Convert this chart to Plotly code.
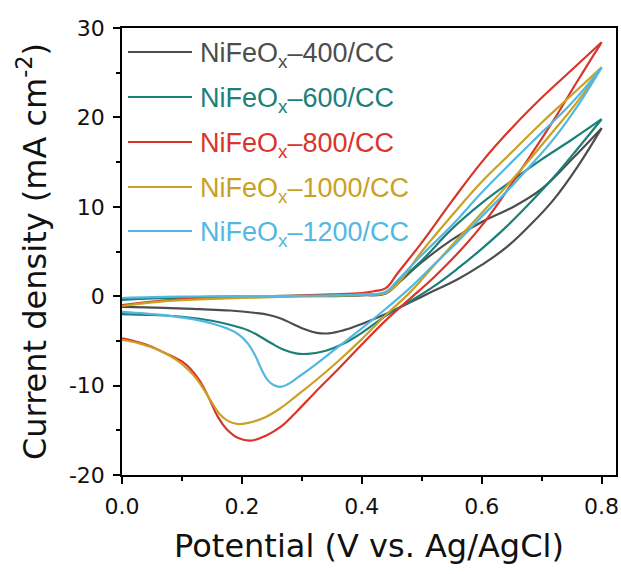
import plotly.graph_objects as go

# ---------------- data ----------------
labels = ["NiFeO<sub>x</sub>–400/CC", "NiFeO<sub>x</sub>–600/CC", "NiFeO<sub>x</sub>–800/CC",
          "NiFeO<sub>x</sub>–1000/CC", "NiFeO<sub>x</sub>–1200/CC"]
colors = ["#4d4d4d", "#1a8079", "#d9352b", "#c9a123", "#52b8e2"]

x_tickvals = [0.0, 0.2, 0.4, 0.6, 0.8]
x_ticklabels = ["0.0", "0.2", "0.4", "0.6", "0.8"]
x_minor = [0.1, 0.3, 0.5, 0.7]
y_tickvals = [-20, -10, 0, 10, 20, 30]
y_ticklabels = ["-20", "-10", "0", "10", "20", "30"]
y_minor = [-15, -5, 5, 15, 25]

# NiFeOx-400/CC  (anodic sweep 0 -> 0.8 V, then cathodic sweep 0.8 -> 0 V)
v400_fwd = [0, 0.05, 0.1, 0.2, 0.3, 0.4, 0.44, 0.46, 0.5, 0.55, 0.6, 0.65, 0.7, 0.75, 0.8]
j400_fwd = [-0.3, -0.2, -0.1, -0.05, 0.0, 0.1, 0.3, 1.4, 3.8, 6.3, 8.3, 9.9, 12.0, 15.3, 18.8]
v400_rev = [0.8, 0.76, 0.72, 0.68, 0.64, 0.6, 0.56, 0.52, 0.48, 0.44, 0.4, 0.37, 0.345,
            0.325, 0.305, 0.285, 0.265, 0.245, 0.22, 0.18, 0.13, 0.07, 0]
j400_rev = [18.8, 14.5, 10.8, 7.9, 5.4, 3.5, 1.9, 0.6, -0.7, -2.0, -3.1, -3.8, -4.15,
            -4.1, -3.7, -3.1, -2.5, -2.1, -1.85, -1.6, -1.45, -1.3, -1.2]

# NiFeOx-600/CC
v600_fwd = [0, 0.05, 0.1, 0.2, 0.3, 0.4, 0.44, 0.46, 0.5, 0.55, 0.6, 0.65, 0.7, 0.75, 0.8]
j600_fwd = [-0.4, -0.25, -0.15, -0.05, 0.05, 0.15, 0.4, 1.6, 4.0, 7.5, 10.4, 12.9, 15.3, 17.5, 19.8]
v600_rev = [0.8, 0.76, 0.72, 0.68, 0.64, 0.6, 0.56, 0.52, 0.48, 0.44, 0.4, 0.37, 0.34,
            0.31, 0.29, 0.27, 0.25, 0.23, 0.21, 0.18, 0.15, 0.1, 0.05, 0]
j600_rev = [19.8, 16.5, 13.3, 10.4, 7.7, 5.3, 3.1, 1.1, -0.6, -2.2, -4.1, -5.3, -6.1,
            -6.45, -6.4, -6.0, -5.3, -4.5, -3.8, -3.2, -2.75, -2.3, -2.1, -2.0]

# NiFeOx-800/CC
v800_fwd = [0, 0.05, 0.1, 0.15, 0.2, 0.25, 0.3, 0.35, 0.4, 0.42, 0.44, 0.46, 0.5, 0.55,
            0.6, 0.65, 0.7, 0.75, 0.8]
j800_fwd = [-1.0, -0.6, -0.35, -0.2, -0.1, 0.0, 0.1, 0.2, 0.35, 0.55, 0.9, 2.6, 6.0, 10.6,
            15.0, 18.8, 22.2, 25.3, 28.4]
v800_rev = [0.8, 0.76, 0.72, 0.68, 0.64, 0.6, 0.56, 0.52, 0.48, 0.44, 0.4, 0.36, 0.32,
            0.29, 0.265, 0.24, 0.215, 0.195, 0.175, 0.16, 0.145, 0.13, 0.115, 0.1, 0.07, 0.04, 0]
j800_rev = [28.4, 24.1, 19.7, 15.6, 11.6, 7.9, 4.8, 2.1, -0.3, -2.7, -5.4, -8.2, -10.9,
            -13.0, -14.6, -15.6, -16.15, -15.9, -14.9, -13.5, -11.4, -9.5, -8.2, -7.3, -6.3, -5.4, -4.7]

# NiFeOx-1000/CC
v1000_fwd = [0, 0.05, 0.1, 0.15, 0.2, 0.25, 0.3, 0.35, 0.4, 0.44, 0.46, 0.5, 0.55, 0.6,
             0.65, 0.7, 0.75, 0.8]
j1000_fwd = [-1.1, -0.7, -0.45, -0.3, -0.2, -0.1, 0.0, 0.05, 0.15, 0.35, 1.4, 5.0, 9.0, 12.8,
             16.1, 19.4, 22.5, 25.6]
v1000_rev = [0.8, 0.76, 0.72, 0.68, 0.64, 0.6, 0.56, 0.52, 0.48, 0.44, 0.4, 0.36, 0.32,
             0.29, 0.265, 0.24, 0.215, 0.195, 0.178, 0.163, 0.15, 0.138, 0.125, 0.11, 0.09,
             0.06, 0.03, 0]
j1000_rev = [25.6, 21.8, 18.5, 15.3, 12.2, 9.3, 6.4, 3.4, 0.4, -2.1, -4.8, -7.3, -9.6,
             -11.2, -12.5, -13.5, -14.1, -14.3, -14.0, -13.2, -11.9, -10.6, -9.3, -8.2, -7.1,
             -6.0, -5.3, -4.9]

# NiFeOx-1200/CC
v1200_fwd = [0, 0.05, 0.1, 0.2, 0.3, 0.4, 0.44, 0.46, 0.5, 0.55, 0.6, 0.65, 0.7, 0.75, 0.8]
j1200_fwd = [-0.2, -0.1, -0.05, 0.0, 0.05, 0.2, 0.5, 1.8, 4.6, 7.9, 11.6, 15.0, 18.3, 21.6, 25.6]
v1200_rev = [0.8, 0.76, 0.72, 0.68, 0.64, 0.6, 0.56, 0.52, 0.48, 0.44, 0.4, 0.36, 0.32,
             0.295, 0.278, 0.264, 0.252, 0.242, 0.232, 0.222, 0.21, 0.195, 0.175, 0.15,
             0.12, 0.08, 0.04, 0]
j1200_rev = [25.6, 21.3, 17.6, 14.5, 11.6, 8.9, 6.1, 3.5, 0.9, -1.4, -3.6, -5.7, -7.8,
             -9.0, -9.8, -10.15, -9.9, -9.3, -8.1, -6.6, -5.3, -4.3, -3.6, -3.05,
             -2.6, -2.2, -1.95, -1.75]

series = [
    (v400_fwd, j400_fwd, v400_rev, j400_rev),
    (v600_fwd, j600_fwd, v600_rev, j600_rev),
    (v800_fwd, j800_fwd, v800_rev, j800_rev),
    (v1000_fwd, j1000_fwd, v1000_rev, j1000_rev),
    (v1200_fwd, j1200_fwd, v1200_rev, j1200_rev),
]

# ---------------- figure ----------------
fig = go.Figure()
for (vf, jf, vr, jr), name, col in zip(series, labels, colors):
    for vx, jy in ((vf, jf), (vr, jr)):
        fig.add_trace(go.Scatter(
            x=vx, y=jy, mode="lines", name=name, showlegend=False,
            line=dict(color=col, width=2.2, shape="spline", smoothing=1.2),
            hoverinfo="skip"))

L, R, T, B = 122, 5, 28, 99
W, H = 621, 574
pw, ph = W - L - R, H - T - B

# manual legend (long line samples like the original)
leg_y_px = [52, 97, 142, 187, 231]
for name, col, py in zip(labels, colors, leg_y_px):
    yp = (H - B - py) / ph
    fig.add_shape(type="line", xref="paper", yref="paper",
                  x0=(128 - L) / pw, x1=(192 - L) / pw, y0=yp, y1=yp,
                  line=dict(color=col, width=2.2))
    fig.add_annotation(xref="paper", yref="paper", x=(198 - L) / pw, y=yp,
                       xanchor="left", yanchor="middle", yshift=-3,
                       text=name, showarrow=False,
                       font=dict(family="Liberation Sans, Arial", size=27, color=col))

axis_font = "DejaVu Sans"
fig.update_xaxes(
    range=[0, 0.824], showline=True, linecolor="black", linewidth=1.5, mirror=True,
    ticks="outside", ticklen=7, tickwidth=1.5, tickcolor="black",
    tickmode="array", tickvals=x_tickvals, ticktext=x_ticklabels,
    minor=dict(tickvals=x_minor, ticks="outside", ticklen=4, tickwidth=1.5, tickcolor="black"),
    showgrid=False, zeroline=False, ticklabelstandoff=4,
    tickfont=dict(family=axis_font, size=22, color="#111"),
    title=dict(text="Potential (V vs. Ag/AgCl)", standoff=16,
               font=dict(family=axis_font, size=32, color="#111")))
fig.update_yaxes(
    range=[-20, 30], showline=True, linecolor="black", linewidth=1.5, mirror=True,
    ticks="outside", ticklen=7, tickwidth=1.5, tickcolor="black",
    tickmode="array", tickvals=y_tickvals, ticktext=y_ticklabels,
    minor=dict(tickvals=y_minor, ticks="outside", ticklen=4, tickwidth=1.5, tickcolor="black"),
    showgrid=False, zeroline=False, ticklabelstandoff=4,
    tickfont=dict(family=axis_font, size=22, color="#111"),
    title=dict(text="Current density (mA cm<sup>-2</sup>)", standoff=13,
               font=dict(family=axis_font, size=32, color="#111")))

fig.update_layout(
    width=W, height=H, margin=dict(l=L, r=R, t=T, b=B, autoexpand=False),
    paper_bgcolor="white", plot_bgcolor="white", showlegend=False)

fig.write_html("out.html")
